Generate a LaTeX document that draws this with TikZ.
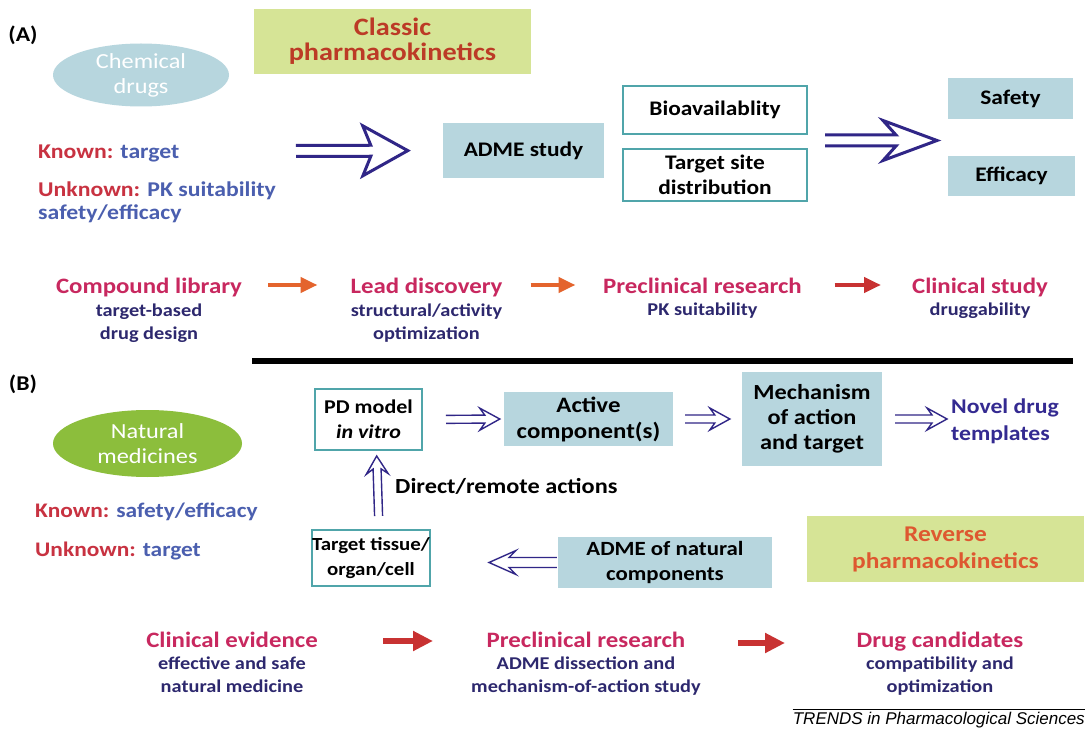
\documentclass[tikz,border=0pt]{standalone}
\usepackage{fontspec}
\setmainfont{Carlito}[FakeStretch=1.13]
\newfontfamily\trendsfont{Liberation Sans}
\usetikzlibrary{arrows.meta,calc,shapes.geometric}

\definecolor{boxblue}{RGB}{183,214,222}
\definecolor{boxteal}{RGB}{80,165,170}
\definecolor{boxgreen}{RGB}{214,228,150}
\definecolor{pkred}{RGB}{188,58,38}
\definecolor{revred}{RGB}{222,88,48}
\definecolor{navy}{RGB}{48,38,135}
\definecolor{titlepink}{RGB}{200,40,95}
\definecolor{subnavy}{RGB}{45,40,110}
\definecolor{knownred}{RGB}{200,50,65}
\definecolor{knownblue}{RGB}{75,95,175}
\definecolor{arrorange}{RGB}{228,100,45}
\definecolor{arrred}{RGB}{200,50,50}
\definecolor{natgreen}{RGB}{140,190,60}
\definecolor{novelblue}{RGB}{52,42,145}

\newcommand\fsz[2]{\fontsize{#1}{#2}\selectfont}

% parameters of the open double-shafted arrows
\pgfkeys{/ha/.is family, /ha,
  pre/.store in=\hapre, post/.store in=\hapost,
  hl/.store in=\hahl, hw/.store in=\hahw,
  gap/.store in=\hagap, notch/.store in=\hanotch,
  pre=0pt, post=0pt, hl=20pt, hw=11pt, gap=4pt, notch=5pt}

\tikzset{
  hollow/.style={
    /utils/exec={\pgfkeys{/ha,#1}},
    draw=navy, line width=1.4pt, line join=miter,
    to path={
      let \p1=(\tikztostart), \p2=(\tikztotarget),
          \n1={atan2(\y2-\y1,\x2-\x1)},
          \n2={veclen(\x2-\x1,\y2-\y1)-\hapost},
          \n3={\n2-\hahl}, \n4={\n3+\hanotch}
      in ([shift={(\p1)},rotate=\n1]\hapre,\hagap)
      -- ([shift={(\p1)},rotate=\n1]\n4,\hagap)
      -- ([shift={(\p1)},rotate=\n1]\n3,\hahw)
      -- ([shift={(\p1)},rotate=\n1]\n2,0pt)
      -- ([shift={(\p1)},rotate=\n1]\n3,-\hahw)
      -- ([shift={(\p1)},rotate=\n1]\n4,-\hagap)
      -- ([shift={(\p1)},rotate=\n1]\hapre,-\hagap)
    }
  },
  bluebox/.style={fill=boxblue, inner sep=0pt, align=center,
    font=\bfseries\fsz{20.7}{25}},
  whitebox/.style={fill=white, draw=boxteal, line width=2pt, inner sep=0pt,
    align=center, font=\bfseries\fsz{20.7}{25}},
  greenbox/.style={fill=boxgreen, inner sep=0pt, align=center},
  blob/.style={ellipse, inner sep=0pt, text=white, align=center,
    font=\fsz{21.5}{25}},
  panel/.style={anchor=base west, inner sep=0pt,
    font=\bfseries\fsz{21}{23}},
  plain/.style={anchor=base west, inner sep=0pt, align=left,
    font=\bfseries\fsz{21}{23}},
  stitle/.style={anchor=base, inner sep=0pt, text=titlepink,
    font=\bfseries\fsz{22}{25}},
  ssub/.style={anchor=base, inner sep=0pt, text=subnavy, align=center,
    font=\bfseries\fsz{18}{23}},
  steparrow/.style={line width=4.5pt, -{Triangle[length=17pt,width=15pt]}},
  fatarrow/.style={line width=6pt, arrred, -{Triangle[length=20pt,width=19pt]}},
}

\begin{document}
\begin{tikzpicture}[x=1pt,y=-1pt]
\useasboundingbox (0,0) rectangle (1088,730);
\fill[white] (0,0) rectangle (1088,730);

% ---------------- panel A ----------------
\node[panel, anchor=center] (labA) at (23,35) {(A)};
\node[blob, fill=boxblue, minimum width=176pt, minimum height=63pt] (chem) at (141,75) {Chemical\\drugs};
\node[greenbox, text=pkred, font=\bfseries\fsz{25}{25}, minimum width=277pt, minimum height=65pt] (classic) at (392.5,41.5) {Classic\\pharmacokinetics};

\node[panel] (knownA) at (38,159) {\textcolor{knownred}{Known:} \textcolor{knownblue}{target}};
\node[plain] (unknownA) at (38,220) {\textcolor{knownred}{Unknown:} \textcolor{knownblue}{PK suitability}\\\textcolor{knownblue}{safety/efficacy}};

\node[bluebox, minimum width=161pt, minimum height=55pt] (adme) at (523.5,150.5) {ADME study};
\node[whitebox, minimum width=184pt, minimum height=48pt] (bio) at (715,110) {Bioavailablity};
\node[whitebox, minimum width=184pt, minimum height=52pt] (tsd) at (715,175) {Target site\\distribution};
\node[bluebox, minimum width=125pt, minimum height=41pt] (safety) at (1010.5,98.5) {Safety};
\node[bluebox, minimum width=127pt, minimum height=40pt] (efficacy) at (1011.5,176) {Efficacy};

\coordinate (aStart) at (296,151);
\draw[hollow={hl=45pt,hw=25pt,gap=5.5pt,notch=8pt,post=35pt}, line width=3pt] (aStart) to (adme.west);
\coordinate (bStart) at (825,140.5);
\coordinate (bEnd) at (937,140.5);
\draw[hollow={hl=54pt,hw=20pt,gap=5.5pt,notch=13pt}, line width=3pt] (bStart) to (bEnd);

% drug discovery stages
\node[stitle] (comp) at (149,294) {Compound library};
\node[ssub] (compS) at (149,339) {target-based\\drug design};
\node[stitle] (lead) at (426.5,294) {Lead discovery};
\node[ssub] (leadS) at (426.5,339) {structural/activity\\optimization};
\node[stitle] (prec) at (702.5,294) {Preclinical research};
\node[ssub] (precS) at (702.5,316) {PK suitability};
\node[stitle] (clin) at (980,294) {Clinical study};
\node[ssub] (clinS) at (980,316) {druggability};

\draw[steparrow, arrorange] ([shift={(119pt,9pt)}]comp.base) -- ([shift={(-109pt,9pt)}]lead.base);
\draw[steparrow, arrorange] ([shift={(104pt,9pt)}]lead.base) -- ([shift={(-127pt,9pt)}]prec.base);
\draw[steparrow, arrred] ([shift={(132pt,9pt)}]prec.base) -- ([shift={(-99pt,9pt)}]clin.base);

% divider
\coordinate (divL) at (252,361);
\coordinate (divR) at (1073,361);
\draw[line width=5.5pt] (divL) -- (divR);

% ---------------- panel B ----------------
\node[panel, anchor=center] (labB) at (23,384) {(B)};
\node[blob, fill=natgreen, minimum width=189pt, minimum height=67pt] (nat) at (147.5,443.5) {Natural\\medicines};
\node[panel, font=\bfseries\fsz{20.7}{23}] (knownB) at (35,517) {\textcolor{knownred}{Known:} \textcolor{knownblue}{safety/efficacy}};
\node[panel, font=\bfseries\fsz{20.7}{23}] (unknownB) at (35,556) {\textcolor{knownred}{Unknown:} \textcolor{knownblue}{target}};

\node[whitebox, font=\bfseries\fsz{19.5}{25}, minimum width=107pt, minimum height=61pt] (pd) at (368.5,419.5) {PD model\\\textit{in vitro}};
\node[bluebox, font=\bfseries\fsz{22}{26}, minimum width=169pt, minimum height=54pt] (active) at (588.5,419) {Active\\component(s)};
\node[bluebox, font=\bfseries\fsz{21.5}{25}, minimum width=140pt, minimum height=94pt] (mech) at (812,419) {Mechanism\\of action\\and target};
\node[plain, text=novelblue, font=\bfseries\fsz{21}{27}] (novel) at (951,440) {Novel drug\\templates};

\node[whitebox, font=\bfseries\fsz{18.5}{25}, minimum width=118pt, minimum height=56pt] (tissue) at (371,558) {Target tissue/\\organ/cell};
\node[bluebox, font=\bfseries\fsz{20.2}{25}, minimum width=214pt, minimum height=51pt] (admeN) at (665,562.5) {ADME of natural\\components};
\node[greenbox, text=revred, font=\bfseries\fsz{22.5}{27}, minimum width=277pt, minimum height=66pt] (reverse) at (945.5,549) {Reverse\\pharmacokinetics};
\node[plain, font=\bfseries\fsz{21.5}{23}] (direct) at (395,493) {Direct/remote actions};

\draw[hollow={pre=23pt,post=4pt}] (pd.east) to (active.west);
\draw[hollow={pre=12pt,post=12pt}] (active.east) to (mech.west);
\draw[hollow={pre=13pt,post=4pt}] (mech.east) to (novel.west |- mech.east);
\draw[hollow={pre=13pt,post=5pt,hl=18pt}] ([xshift=8pt]tissue.north) to ([xshift=8pt]pd.south);
\draw[hollow={pre=1pt,post=58pt,hl=27pt,hw=12pt,gap=5pt,notch=7pt}] (admeN.west) to (tissue.east |- admeN.west);

% natural-medicine stages
\node[stitle] (clinev) at (232,647) {Clinical evidence};
\node[ssub] (clinevS) at (232,692) {effective and safe\\natural medicine};
\node[stitle] (precB) at (586,647) {Preclinical research};
\node[ssub] (precBS) at (586,692) {ADME dissection and\\mechanism-of-action study};
\node[stitle] (cand) at (940,647) {Drug candidates};
\node[ssub] (candS) at (940,692) {compatibility and\\optimization};

\draw[fatarrow] ([shift={(151pt,6pt)}]clinev.base) -- ([shift={(-153pt,6pt)}]precB.base);
\draw[fatarrow] ([shift={(152pt,4pt)}]precB.base) -- ([shift={(-155pt,4pt)}]cand.base);

% journal footer
\node[anchor=base east, inner sep=0pt, font=\trendsfont\itshape\fsz{17}{20}] (trends) at (1085,724) {TRENDS in Pharmacological Sciences};
\draw[line width=1pt] (trends.north west |- 0,709) -- (trends.north east |- 0,709);
\end{tikzpicture}
\end{document}
